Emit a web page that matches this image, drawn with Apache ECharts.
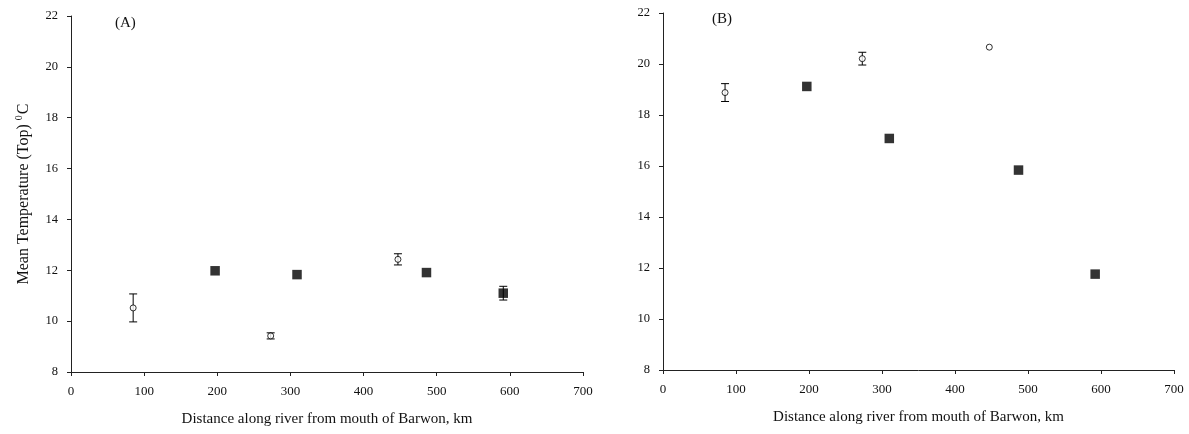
<!DOCTYPE html>
<html>
<head>
<meta charset="utf-8">
<script src="https://cdn.jsdelivr.net/npm/echarts@6/dist/echarts.min.js"></script>
<style>
  html, body { margin: 0; padding: 0; background: #fff; }
  #chart { width: 1189px; height: 434px; }
</style>
</head>
<body>
<div id="chart"></div>
<script>
// Distance along river (km) and mean top temperature (°C), two panels.
// Open circles and filled squares are the two site groups; errors are ± half-range.
const openDistA = [85, 273, 447];
const openTempA = [10.52, 9.42, 12.43];
const openErrA  = [0.55, 0.12, 0.22];
const fillDistA = [197, 309, 486, 591];
const fillTempA = [11.98, 11.83, 11.91, 11.1];
const fillErrA  = [0, 0, 0, 0.27];

const openDistB = [85, 273, 447];
const openTempB = [18.88, 20.21, 20.66];
const openErrB  = [0.35, 0.25, 0];
const fillDistB = [197, 310, 487, 592];
const fillTempB = [19.12, 17.08, 15.84, 11.76];
const fillErrB  = [0, 0, 0, 0];

const xTicks = { min: 0, max: 700, interval: 100 };
const yTicks = { min: 8, max: 22, interval: 2 };
const panelLabels = ['(A)', '(B)'];
const xTitle = 'Distance along river from mouth of Barwon, km';

const FONT = '"Liberation Serif", "DejaVu Serif", serif';
const AXIS_COLOR = '#222';

function pts(xs, ys) { return xs.map((x, i) => [x, ys[i]]); }
function errs(xs, ys, es) {
  return xs.map((x, i) => [x, ys[i] - es[i], ys[i] + es[i]]).filter((d, i) => es[i] > 0);
}

function errorRender(params, api) {
  const x = api.value(0);
  const lo = api.coord([x, api.value(1)]);
  const hi = api.coord([x, api.value(2)]);
  const cap = 4;
  const style = { stroke: '#000', lineWidth: 1 };
  return {
    type: 'group',
    children: [
      { type: 'line', shape: { x1: hi[0], y1: hi[1], x2: lo[0], y2: lo[1] }, style },
      { type: 'line', shape: { x1: hi[0] - cap, y1: hi[1], x2: hi[0] + cap, y2: hi[1] }, style },
      { type: 'line', shape: { x1: lo[0] - cap, y1: lo[1], x2: lo[0] + cap, y2: lo[1] }, style }
    ]
  };
}

function xAxis(idx) {
  return {
    type: 'value', gridIndex: idx, min: xTicks.min, max: xTicks.max, interval: xTicks.interval,
    name: xTitle, nameLocation: 'middle', nameGap: 40,
    nameTextStyle: { fontFamily: FONT, fontSize: 15, color: '#111' },
    axisLine: { show: true, onZero: false, lineStyle: { color: AXIS_COLOR, width: 1 } },
    axisTick: { show: true, length: 4, lineStyle: { color: AXIS_COLOR } },
    axisLabel: { fontFamily: FONT, fontSize: 13, color: '#111', margin: 13 },
    splitLine: { show: false }
  };
}
function yAxis(idx, withName) {
  const ax = {
    type: 'value', gridIndex: idx, min: yTicks.min, max: yTicks.max, interval: yTicks.interval,
    axisLine: { show: true, onZero: false, lineStyle: { color: AXIS_COLOR, width: 1 } },
    axisTick: { show: true, length: 4, lineStyle: { color: AXIS_COLOR } },
    axisLabel: { fontFamily: FONT, fontSize: 12.5, color: '#111', margin: 13 },
    splitLine: { show: false }
  };
  if (withName) {
    ax.name = '{a|Mean Temperature (Top) }{s|0}{a|C}';
    ax.nameLocation = 'middle';
    ax.nameGap = 39;
    ax.nameTextStyle = {
      fontFamily: FONT, color: '#111',
      rich: {
        a: { fontFamily: FONT, fontSize: 16, color: '#111', verticalAlign: 'bottom' },
        s: { fontFamily: FONT, fontSize: 10, color: '#111', verticalAlign: 'top', padding: [0, 1, 8, 0] }
      }
    };
  }
  return ax;
}

function panelSeries(idx, oD, oT, oE, fD, fT, fE) {
  return [
    { type: 'custom', xAxisIndex: idx, yAxisIndex: idx, renderItem: errorRender,
      data: errs(oD, oT, oE), z: 2, silent: true },
    { type: 'custom', xAxisIndex: idx, yAxisIndex: idx, renderItem: errorRender,
      data: errs(fD, fT, fE), z: 2, silent: true },
    { type: 'scatter', xAxisIndex: idx, yAxisIndex: idx, data: pts(oD, oT),
      symbol: 'circle', symbolSize: 6, z: 3,
      itemStyle: { color: '#fff', borderColor: '#000', borderWidth: 1 } },
    { type: 'scatter', xAxisIndex: idx, yAxisIndex: idx, data: pts(fD, fT),
      symbol: 'rect', symbolSize: 9.5, z: 3,
      itemStyle: { color: '#000' } }
  ];
}

const chart = echarts.init(document.getElementById('chart'), null, { renderer: 'canvas' });
chart.setOption({
  animation: false,
  backgroundColor: '#fff',
  title: [
    { text: panelLabels[0], left: 110, top: 11, textStyle: { fontFamily: FONT, fontSize: 15, fontWeight: 'normal', color: '#111' } },
    { text: panelLabels[1], left: 707, top: 7, textStyle: { fontFamily: FONT, fontSize: 15, fontWeight: 'normal', color: '#111' } }
  ],
  grid: [
    { left: 71, top: 16, width: 512, height: 356 },
    { left: 663, top: 13, width: 511, height: 357 }
  ],
  xAxis: [xAxis(0), xAxis(1)],
  yAxis: [yAxis(0, true), yAxis(1, false)],
  series: [
    ...panelSeries(0, openDistA, openTempA, openErrA, fillDistA, fillTempA, fillErrA),
    ...panelSeries(1, openDistB, openTempB, openErrB, fillDistB, fillTempB, fillErrB)
  ]
});
</script>
</body>
</html>
